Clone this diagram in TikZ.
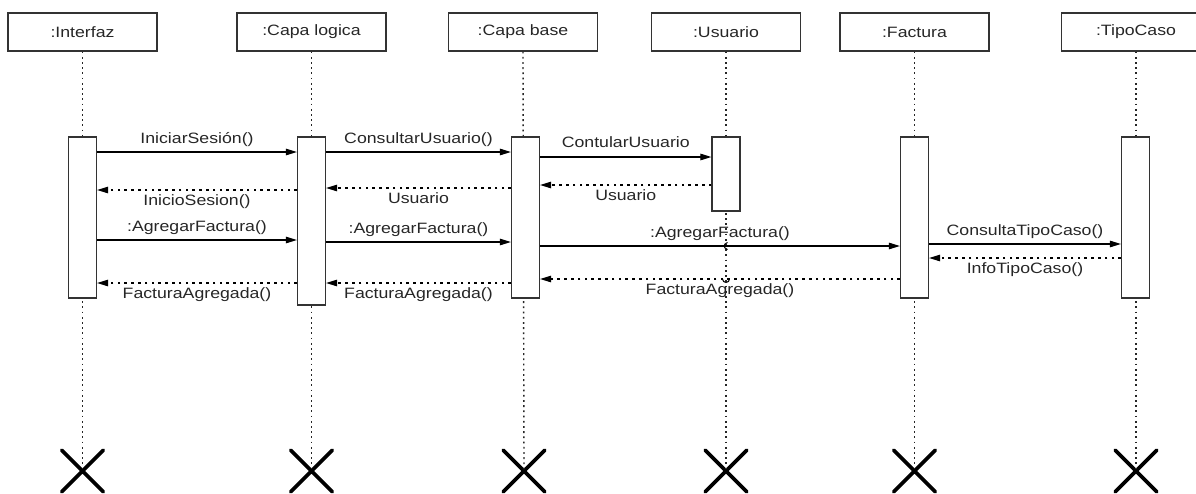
\documentclass[tikz,border=0pt]{standalone}
\usepackage{fontspec}
\setmainfont{Liberation Sans}[FakeStretch=1.18]
\usetikzlibrary{arrows.meta,shapes.misc}
\begin{document}
\begin{tikzpicture}[x=1pt,y=-1pt,
  objbox/.style={draw=black!80,line width=1.2pt,minimum width=149pt,minimum height=38pt,
    inner sep=0pt,font=\fontsize{15}{18}\selectfont,text=black!85},
  actbar/.style={draw=black!80,fill=white,line width=1.2pt,minimum width=28pt,inner sep=0pt},
  lifeline/.style={draw=black!85,line width=1.4pt,dash pattern=on 1.8pt off 3.4pt},
  call/.style={line width=1.1pt,-{Triangle[length=11pt,width=6.5pt]}},
  reply/.style={line width=1.1pt,dash pattern=on 2.6pt off 4.2pt,-{Triangle[length=11pt,width=6.5pt]}},
  lbl/.style={font=\fontsize{15}{18}\selectfont,text=black!85,inner sep=0pt,anchor=base},
  up/.style={lbl,midway,yshift=8.5pt},
  down/.style={lbl,midway,yshift=-15pt},
  endmark/.style={cross out,draw=black,line width=3.6pt,minimum size=38pt,inner sep=0pt,line cap=round}]

\useasboundingbox (0,0) rectangle (1196,493);
\clip (0,0) rectangle (1196,493);

% object headers
\node[objbox] (hI) at (82.5,32)  {:Interfaz};
\node[objbox] (hL) at (311.5,32) {:Capa logica};
\node[objbox] (hB) at (523,32)   {:Capa base};
\node[objbox] (hU) at (726,32)   {:Usuario};
\node[objbox] (hF) at (914.5,32) {:Factura};
\node[objbox] (hT) at (1136,32)  {:TipoCaso};

% destruction marks
\node[endmark] (xI) at (82.5,471) {};
\node[endmark] (xL) at (311.5,471) {};
\node[endmark] (xB) at (524,471) {};
\node[endmark] (xU) at (726,471) {};
\node[endmark] (xF) at (914.5,471) {};
\node[endmark] (xT) at (1136,471) {};

% lifelines
\foreach \h/\x in {hI/xI,hL/xL,hB/xB,hU/xU,hF/xF,hT/xT}
  \draw[lifeline] (\h.south) -- (\x.center);

% activation bars
\node[actbar,minimum height=161pt] (iA) at (82.5,217.5)  {};
\node[actbar,minimum height=168pt] (lA) at (311.5,221)   {};
\node[actbar,minimum height=161pt] (bA) at (525.5,217.5) {};
\node[actbar,minimum height=74pt]  (uA) at (726,174)     {};
\node[actbar,minimum height=161pt] (fA) at (914.5,217.5) {};
\node[actbar,minimum height=161pt] (tA) at (1135.5,217.5) {};

% messages
\draw[call]  (iA.east |- 0,152) -- (lA.west |- 0,152) node[up] {IniciarSesión()};
\draw[reply] (lA.west |- 0,190) -- (iA.east |- 0,190) node[down] {InicioSesion()};
\draw[call]  (lA.east |- 0,152) -- (bA.west |- 0,152) node[up] {ConsultarUsuario()};
\draw[reply] (bA.west |- 0,188) -- (lA.east |- 0,188) node[down] {Usuario};
\draw[call]  (bA.east |- 0,157) -- (uA.west |- 0,157) node[up,yshift=1.5pt] {ContularUsuario};
\draw[reply] (uA.west |- 0,185) -- (bA.east |- 0,185) node[down] {Usuario};

\draw[call]  (iA.east |- 0,240) -- (lA.west |- 0,240) node[up] {:AgregarFactura()};
\draw[call]  (lA.east |- 0,242) -- (bA.west |- 0,242) node[up] {:AgregarFactura()};
\draw[call]  (bA.east |- 0,246) -- (fA.west |- 0,246) node[up] {:AgregarFactura()};
\draw[call]  (fA.east |- 0,244) -- (tA.west |- 0,244) node[up] {ConsultaTipoCaso()};
\draw[reply] (tA.west |- 0,258) -- (fA.east |- 0,258) node[down] {InfoTipoCaso()};
\draw[reply] (fA.west |- 0,279) -- (bA.east |- 0,279) node[down] {FacturaAgregada()};
\draw[reply] (bA.west |- 0,283) -- (lA.east |- 0,283) node[down] {FacturaAgregada()};
\draw[reply] (lA.west |- 0,283) -- (iA.east |- 0,283) node[down] {FacturaAgregada()};

% line jumps where messages cross the :Usuario lifeline
\draw[line width=1pt] (727.5,242.5) .. controls (723,244) and (723,248) .. (727.5,249.5);
\draw[line width=1pt] (722.5,279) arc (180:0:3.5);

\end{tikzpicture}
\end{document}
